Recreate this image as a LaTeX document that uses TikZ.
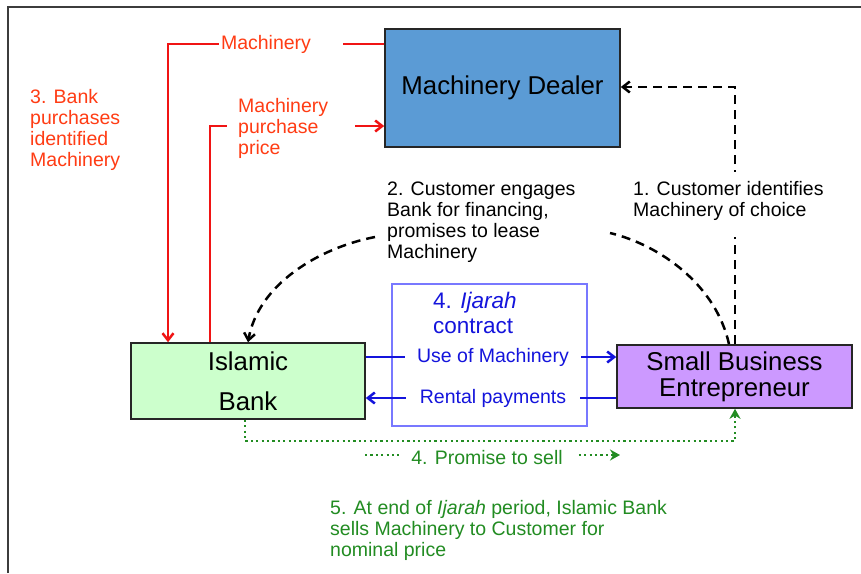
\documentclass[tikz,border=0pt]{standalone}
\usepackage{fontspec}
\setmainfont{Liberation Sans}
\usetikzlibrary{arrows.meta,calc}
\definecolor{dealerblue}{RGB}{91,155,213}
\definecolor{bankgreen}{RGB}{204,255,204}
\definecolor{sbeviolet}{RGB}{204,153,255}
\definecolor{redline}{RGB}{240,20,20}
\definecolor{redtext}{RGB}{255,60,20}
\definecolor{bluec}{RGB}{20,20,220}
\definecolor{blueframe}{RGB}{120,120,255}
\definecolor{greenc}{RGB}{34,140,34}
\definecolor{frame}{RGB}{60,60,60}
\begin{document}
\begin{tikzpicture}[x=1pt,y=-1pt,
  box/.style={draw=black!85, line width=1.6pt, inner sep=0pt, align=center, font=\fontsize{25.8}{26}\selectfont},
  lbl/.style={inner sep=0pt, align=left, font=\fontsize{19.5}{21}\selectfont},
  redpath/.style={draw=redline, line width=2.5pt},
  dashblk/.style={draw=black, line width=2.5pt, dash pattern=on 9pt off 6pt},
  bluepath/.style={draw=bluec, line width=2.5pt},
  greendot/.style={draw=greenc, line width=2.5pt, dash pattern=on 2.2pt off 3.2pt},
  barb/.style={-{Straight Barb[length=7pt,width=11pt,line width=2.5pt]}},
  gtip/.style={-{Stealth[length=10pt,width=11pt]}}
]
\useasboundingbox (0,0) rectangle (861,573);
\fill[white] (0,0) rectangle (861,573);
\coordinate (f1) at (8,573);
\coordinate (f2) at (8,7);
\coordinate (f3) at (861,7);
\draw[frame, line width=1.5pt] (f1) -- (f2) -- (f3);

% boxes
\node[box, fill=dealerblue, minimum width=235pt, minimum height=118pt] (dealer) at (502.5,88) {Machinery Dealer};
\node[box, fill=bankgreen, minimum width=234pt, minimum height=76pt] (bank) at (248,381) {Islamic\\[14pt]Bank};
\node[box, fill=sbeviolet, minimum width=235pt, minimum height=63pt] (sbe) at (734.5,376.5) {Small Business\\Entrepreneur};
\node[draw=blueframe, line width=1.2pt, minimum width=195pt, minimum height=142pt, inner sep=0pt] (ijbox) at (489.5,355) {};

% ijarah contract texts
\node[lbl, text=bluec, anchor=west, font=\fontsize{22.5}{25}\selectfont] (ij) at (433,313) {4. \textit{Ijarah}\\contract};

% blue flows
\node[lbl, text=bluec, fill=white, inner xsep=12pt] (use) at (493,357) {Use of Machinery};
\node[lbl, text=bluec, fill=white, inner xsep=14pt] (rent) at (493,398) {Rental payments};
\draw[bluepath] (bank.east |- use) -- (use.west);
\draw[bluepath, barb] (use.east) -- (sbe.west |- use);
\draw[bluepath] (sbe.west |- rent) -- (rent.east);
\draw[bluepath, barb] (rent.west) -- (bank.east |- rent);

% red flows
\node[lbl, text=redtext] (mach) at (266,44) {Machinery};
\coordinate (m1) at (343,44);
\draw[redpath] (dealer.west |- m1) -- (m1);
\draw[redpath, barb] (mach.west) ++(-2,0) coordinate (m2) -- (168,44) -- (bank.north -| 168,0);
\node[lbl, text=redtext, anchor=north west] (mpp) at (238,98) {Machinery\\purchase\\price};
\coordinate (p1) at (227,126);
\coordinate (p2) at (355,126);
\draw[redpath] (bank.north -| 210,0) -- (210,126) -- (p1);
\draw[redpath, barb] (p2) -- (dealer.west |- p2);
\node[lbl, text=redtext, anchor=north west] (l3) at (30,89) {3. Bank\\purchases\\identified\\Machinery};

% black dashed 1
\draw[dashblk, barb] (sbe.north -| 735,0) -- (735,87) -- (dealer.east |- 0,87);
\node[lbl, fill=white, inner ysep=9pt, anchor=north west] (l1) at (633,172) {\rule{0pt}{9pt}1. Customer identifies\\Machinery of choice\rule[-12pt]{0pt}{12pt}};

% black dashed 2
\node[lbl, anchor=north west] (l2) at (387,182) {2. Customer engages\\Bank for financing,\\promises to lease\\Machinery};
\coordinate (c1) at (610,233);
\coordinate (c2) at (375,237);
\draw[dashblk] (sbe.north -| 729,0) .. controls (716,285) and (660,245) .. (c1);
\draw[dashblk, barb] (c2) .. controls (318,248) and (258,285) .. (bank.north -| 248,0);

% green
\draw[greendot, gtip] (bank.south -| 245,0) -- (245,441) -- (735,441) -- (sbe.south -| 735,0);
\node[lbl, text=greenc] (prom) at (487,458) {4. Promise to sell};
\coordinate (g1) at (365,455);
\coordinate (g2) at (620,455);
\draw[greendot] (g1) -- ($(prom.west |- g1)+(-12,0)$);
\draw[greendot, gtip] ($(prom.east |- g2)+(16,0)$) -- (g2);
\node[lbl, text=greenc, anchor=north west] (l5) at (330,500) {5. At end of \textit{Ijarah} period, Islamic Bank\\sells Machinery to Customer for\\nominal price};
\end{tikzpicture}
\end{document}
